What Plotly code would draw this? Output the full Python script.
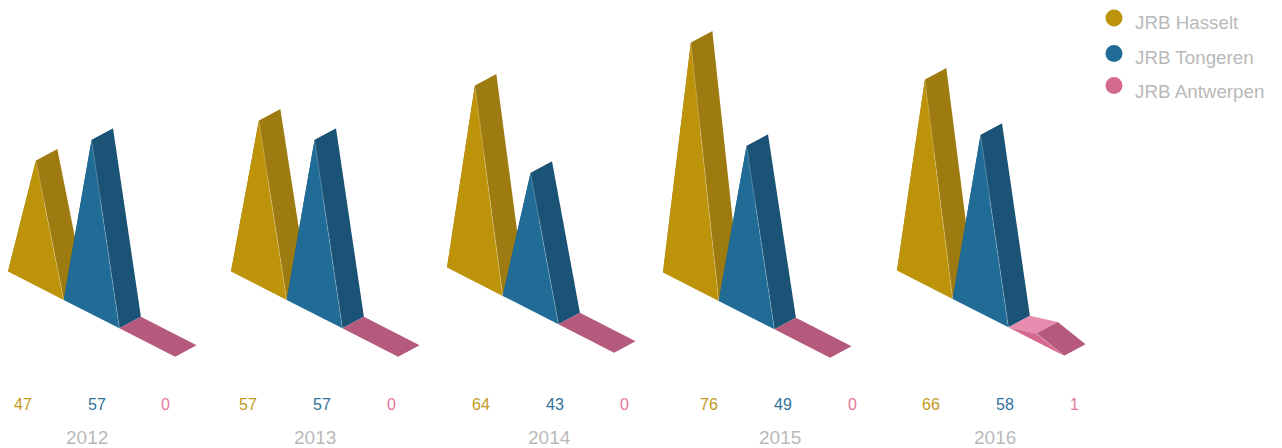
import plotly.graph_objects as go

# values as printed under each triangle
years = ["2012", "2013", "2014", "2015", "2016"]
series = ["JRB Hasselt", "JRB Tongeren", "JRB Antwerpen"]
hasselt = [47, 57, 64, 76, 66]
tongeren = [57, 57, 43, 49, 58]
antwerpen = [0, 0, 0, 0, 1]

# triangle heights as drawn in the picture (they don't follow the labels exactly)
hasselt_drawn = [125, 165, 196, 244, 205]
tongeren_drawn = [174, 174, 137, 169, 178]
antwerpen_drawn = [0, 0, 0, 0, 8]

# layout, in page pixels
group_x = [8, 231, 447, 663, 897]
group_y = [271.5, 271.5, 267.5, 272.5, 270.5]
label_x = [22.5, 248, 481, 709, 931]
label_gap = [0, 74, 143]
year_x = [87, 315, 549, 780, 995]
step_x, step_y = 55.7, 28.4
depth_x, depth_y = 21.5, -11.5
legend_y = [18, 53.5, 85.5]
legend_text_y = [22, 57, 91.5]

front_colors = ["#BD930A", "#206C96", "#D56A91"]
side_colors = ["#9E7B11", "#1B5376", "#B55A7D"]
left_colors = ["#9E7B11", "#1B5376", "#E58CB0"]
label_colors = ["#C39A1C", "#2F7299", "#E5779C"]
grey = "#B9B9B9"
seam = "rgba(255,255,255,0.3)"
font = "Liberation Sans"


def face(fig, pts, color):
	fig.add_trace(go.Scatter(
		x=[p[0] for p in pts] + [pts[0][0]],
		y=[p[1] for p in pts] + [pts[0][1]],
		mode="lines", fill="toself", fillcolor=color,
		line=dict(width=0), hoverinfo="skip", showlegend=False))


def prism(fig, x0, y0, h, i):
	# front triangle corners, then the same corners pushed back by the depth
	a = (x0, y0)
	b = (x0 + step_x, y0 + step_y)
	top = (x0 + step_x / 2, y0 + step_y / 2 - h)
	back = lambda p: (p[0] + depth_x, p[1] + depth_y)
	if h == 0:
		face(fig, [a, back(a), back(b), b], side_colors[i])
		return
	face(fig, [a, back(a), back(top), top], left_colors[i])
	face(fig, [top, back(top), back(b), b], side_colors[i])
	face(fig, [a, top, b], front_colors[i])
	# faint light edge between the front and the side
	fig.add_trace(go.Scatter(x=[top[0], b[0]], y=[top[1], b[1]], mode="lines",
		line=dict(width=0.8, color=seam), hoverinfo="skip", showlegend=False))


fig = go.Figure()
drawn = [hasselt_drawn, tongeren_drawn, antwerpen_drawn]
shown = [hasselt, tongeren, antwerpen]

annotations = []
def label(x, y, text, color, size, anchor="center"):
	annotations.append(dict(x=x, y=y, xref="x", yref="y", text=text, showarrow=False,
		xanchor=anchor, yanchor="middle", font=dict(family=font, size=size, color=color)))

for g in range(len(years)):
	for i in range(len(series)):
		prism(fig, group_x[g] + i * step_x, group_y[g] + i * step_y, drawn[i][g], i)
		label(label_x[g] + label_gap[i], 404, str(shown[i][g]), label_colors[i], 16)
	label(year_x[g], 437, years[g], grey, 19)

for i in range(len(series)):
	fig.add_trace(go.Scatter(x=[1114], y=[legend_y[i]], mode="markers", hoverinfo="skip",
		marker=dict(size=17, color=front_colors[i], line=dict(width=0)), showlegend=False))
	label(1133, legend_text_y[i], series[i], grey, 18.8, "left")

fig.update_layout(
	width=1282, height=448, margin=dict(l=0, r=0, t=0, b=0),
	paper_bgcolor="white", plot_bgcolor="white", annotations=annotations,
	xaxis=dict(range=[0, 1282], visible=False, fixedrange=True),
	yaxis=dict(range=[448, 0], visible=False, fixedrange=True))

fig.write_html("out.html", config=dict(displayModeBar=False),
	post_script="document.body.style.margin='0';document.body.style.overflow='hidden';")
